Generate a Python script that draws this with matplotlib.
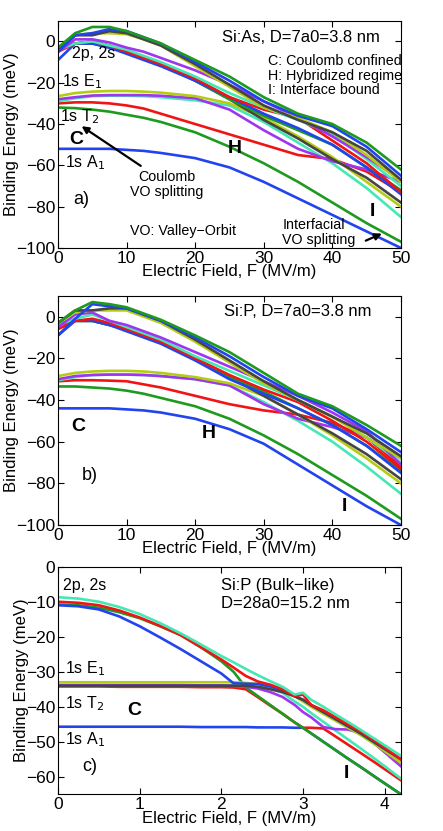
import matplotlib
matplotlib.use("Agg")
import matplotlib.pyplot as plt

plt.rcParams['font.family'] = ['Liberation Sans', 'DejaVu Sans']

# colours (MATLAB-ish)
BLUE = '#2244ee'
GREEN = '#1e9a1e'
RED = '#f01515'
CYAN = '#45e8b5'
PURPLE = '#a035f0'
YELLOW = '#b5cc15'
GRAY = '#454545'

# ---------- panel a) Si:As, D=7a0 ----------
xa = [0, 2.5, 5, 7.5, 10, 12.5, 15, 20, 25, 30, 35, 40, 45, 50]

a_green1 = [-3, 4, 7, 7, 5, 2, -1, -9, -17, -27, -35, -40, -49, -62]
a_blue1 = [-5, 3, 4, 6, 5, 2, -1, -10, -19, -29, -36, -41, -51, -65]
a_gray1 = [-4, 3, 3, 5, 4, 1, -2, -11, -21, -31, -38, -44, -53, -67]
a_yellow1 = [-4, 3, 4, 4, 3.5, 1, -2, -12, -22, -32, -37, -44, -55, -68]
a_purple1 = [-5, 1, 1, -0.5, -3, -5, -8, -14, -21, -29, -37, -46, -56, -67]
a_cyan1 = [-4, -1, 0, -2, -4, -7, -10, -17, -25, -32, -38, -45, -57, -70]
a_red1 = [-5, -1, 0, -2, -5, -8, -11, -18, -27, -33, -37, -48, -59, -73]
a_blue2 = [-9, -1, -1, -3, -6, -9, -12, -19, -27, -35, -42, -50, -61, -74]
a_green2 = [-3, -1, 0, -2, -5, -8, -11, -19, -28, -36, -43, -50, -61, -72]
a_gray2 = [-4, -1, -1, -3, -5, -8, -11, -19, -28, -38, -47, -57, -66, -78]
a_yellow2 = [-26.5, -25, -24.3, -24, -24, -24.3, -24.8, -26.5, -30, -37, -46, -56, -68, -80]
a_purple2 = [-28, -27, -26.2, -26, -26, -26, -26.3, -27.5, -33, -43, -52, -58, -62, -68]
a_cyan2 = [-29, -27.5, -26.5, -26.3, -26.3, -26.5, -27, -28.5, -31, -39, -49, -59, -71, -85]
a_red2 = [-30, -29.5, -29.5, -30, -31, -32.5, -35, -40, -45, -50, -55, -57, -63, -73]
a_green3 = [-32, -32.3, -33, -34, -35.5, -37, -39, -44, -51, -59, -68, -78, -88, -97]
a_blue3 = [-52, -52, -52, -52, -52.5, -53, -54, -56.5, -61, -68, -76, -84, -92, -100]

# ---------- panel b) Si:P, D=7a0 ----------
xb = [0, 2.5, 5, 7.5, 10, 12.5, 15, 20, 25, 30, 35, 40, 45, 50]

b_green1 = [-3, 3, 7, 6, 4.5, 1.5, -1.5, -9, -17, -27, -37, -43, -52, -62]
b_blue1 = [-9, -1, 6, 5, 4, 1, -2, -10, -19, -29, -38, -44, -54, -65]
b_gray1 = [-3, 3, 3, 4, 4, 1, -2, -11, -21, -31, -40, -48, -56, -67]
b_yellow1 = [-3, 2, 3, 3, 3, 0, -3, -12, -22, -32, -40, -48, -58, -68]
b_purple1 = [-5, 1, 2, -2, -4, -7, -10, -17, -24, -31, -38, -46, -55, -71]
b_cyan1 = [-4, -1, 1, -2, -5, -8, -11, -19, -26, -33, -40, -48, -58, -70]
b_red1 = [-6, -2, -1, -3, -6, -9, -12, -20, -28, -35, -41, -50, -60, -73]
b_blue2 = [-9, -2, -2, -4, -7, -10, -13, -21, -30, -37, -44, -52, -62, -75]
b_green2 = [-3, -2, -2, -4, -6, -9, -12, -20, -29, -36, -44, -52, -62, -74]
b_gray2 = [-4, -2, -2, -4, -6, -9, -12, -20, -29, -38, -47, -56, -66, -78]
b_yellow2 = [-28.5, -27, -26.3, -26, -26, -26.3, -27, -29, -32, -38, -47, -57, -68, -80]
b_purple2 = [-30, -28.5, -28, -27.8, -27.8, -28, -28.5, -30, -33, -42, -49, -53, -58, -68]
b_cyan2 = [-30.5, -29, -28, -27.8, -27.8, -28, -28.5, -30, -33, -41, -50, -60, -72, -85]
b_red2 = [-31, -30.5, -30.5, -30.7, -31, -32.5, -34, -38, -42, -45, -47, -51, -58, -72]
b_green3 = [-33.5, -33.5, -34, -34.5, -35.5, -37, -39, -43, -49, -57, -66, -76, -86, -97]
b_blue3 = [-44, -44, -44, -44, -44.5, -45, -46, -49, -54, -61, -71, -81, -91, -100]

# ---------- panel c) Si:P bulk-like, D=28a0 ----------
xc = [0, 0.25, 0.5, 0.75, 1, 1.25, 1.5, 1.75, 2, 2.15, 2.3, 2.45, 2.6, 2.75, 2.9,
      3.0, 3.1, 3.25, 3.4, 3.55, 3.7, 3.9, 4.2]

c_cyan1 = [-8.7, -9.1, -10, -11.5, -13.5, -16.1, -19, -22.2, -25.5, -27.3, -29.2, -31,
           -32.7, -34.3, -36.5, -36, -38, -40, -42.2, -44.3, -46.5, -49.5, -54]
c_red1 = [-10, -10.3, -11, -12.5, -14.5, -16.9, -19.5, -23, -26.5, -28.8, -31.2, -32.8,
          -33.7, -35, -37, -36.5, -39.5, -41, -43, -45, -47, -50, -55]
c_blue1 = [-11, -11.3, -12.2, -14.2, -17, -20.2, -23.5, -27, -30.5, -33.3, -33.4, -33.5,
           -34.2, -35.3, -37, -38, -39.5, -41.5, -43.5, -45.5, -47.5, -50.5, -55]
c_green1 = [-10.8, -11, -11.7, -13, -14.7, -17, -19.5, -23, -27, -30, -34.5, -37,
            -39.5, -42, -44.5, -46, -47.6, -50, -52.4, -54.8, -57.1, -60.3, -65]
c_red2 = [-34.2, -34.2, -34.2, -34.3, -34.3, -34.3, -34.3, -34.4, -34.4, -34.5, -35, -37.3,
          -39.7, -42, -44.5, -46, -46, -46.2, -48.5, -50.8, -53.1, -56.2, -61]
c_yellow = [-33, -33, -33, -33, -33, -33, -33, -33, -33, -33, -33.2, -33.5,
            -34.2, -35.2, -37, -38.5, -40, -42, -44, -46, -48, -51, -56]
c_gray = [-34, -34, -34, -34, -34, -34, -34, -34, -34, -34, -34, -34.3,
          -35, -35.8, -37, -38, -39.5, -41.5, -43.5, -45.5, -47.5, -50.5, -55]
c_purple = [-33.8, -33.8, -33.8, -33.8, -33.8, -33.8, -33.8, -33.9, -33.9, -34, -34.3, -34.8,
            -35.8, -37.2, -39.5, -41.5, -43, -45.8, -46.4, -46.5, -47.5, -51, -57]
c_cyan2 = [-34, -34, -34, -34, -34, -34, -34, -34, -34, -34, -34.1, -34.3,
           -34.8, -36, -38.5, -40, -41.8, -44.3, -46.8, -49.3, -51.8, -55.2, -60.5]
c_blue2 = [-45.7, -45.7, -45.7, -45.7, -45.7, -45.7, -45.7, -45.8, -45.8, -45.8, -45.8, -45.9,
           -45.9, -45.9, -46, -46, -47.6, -50, -52.4, -54.8, -57.1, -60.3, -65]

LW = 1.9


def style_axes(ax):
    ax.tick_params(direction='in', top=True, right=True, labelsize=12.5, length=4, pad=2)
    ax.set_xlabel('Electric Field, F (MV/m)', fontsize=12, labelpad=-1)
    ax.set_ylabel('Binding Energy (meV)', fontsize=12, labelpad=-2)


fig = plt.figure(figsize=(4.43, 8.31), dpi=100)

# ---- a)
ax = fig.add_axes([0.131, 0.7016, 0.774, 0.2734])
lines_a = [
    (a_blue3, BLUE), (a_green3, GREEN), (a_red2, RED), (a_cyan2, CYAN),
    (a_purple2, PURPLE), (a_yellow2, YELLOW),
    (a_gray2, GRAY), (a_green2, GREEN), (a_blue2, BLUE), (a_red1, RED),
    (a_cyan1, CYAN), (a_purple1, PURPLE),
    (a_yellow1, YELLOW), (a_gray1, GRAY), (a_blue1, BLUE), (a_green1, GREEN),
]
for ys, c in lines_a:
    ax.plot(xa, ys, color=c, lw=LW)
ax.set_xlim(0, 50)
ax.set_ylim(-100, 10)
ax.set_xticks([0, 10, 20, 30, 40, 50])
ax.set_yticks([-100, -80, -60, -40, -20, 0])
style_axes(ax)
ax.text(23.9, 2, 'Si:As, D=7a0=3.8 nm', fontsize=12, va='center')
ax.text(30.6, -9.4, 'C: Coulomb confined', fontsize=10.3, va='center')
ax.text(30.6, -16.6, 'H: Hybridized regime', fontsize=10.3, va='center')
ax.text(30.6, -23.4, 'I: Interface bound', fontsize=10.3, va='center')
ax.text(2.0, -5.7, '2p, 2s', fontsize=11.5, va='center')
ax.text(0.6, -19.5, '1s E$_1$', fontsize=11.5, va='center')
ax.text(0.3, -36.5, '1s T$_2$', fontsize=11.5, va='center')
ax.text(1.0, -58.8, '1s A$_1$', fontsize=11.5, va='center')
ax.text(1.7, -47.5, 'C', fontsize=14, fontweight='bold', va='center')
ax.text(24.8, -51.6, 'H', fontsize=14, fontweight='bold', va='center')
ax.text(45.5, -82.4, 'I', fontsize=14, fontweight='bold', va='center')
ax.text(2.2, -76.7, 'a)', fontsize=13, va='center')
ax.text(15.9, -69.4, 'Coulomb\nVO splitting', fontsize=10.3, ha='center', va='center',
        linespacing=1.1)
ax.annotate('', xy=(3.1, -40.3), xytext=(12.4, -61),
            arrowprops=dict(arrowstyle='-|>', lw=1.6, color='k', mutation_scale=10))
ax.text(10.5, -91.6, 'VO: Valley\u2212Orbit', fontsize=10.3, va='center')
ax.text(32.7, -92.6, 'Interfacial\nVO splitting', fontsize=10.3, va='center',
        linespacing=1.1)
ax.annotate('', xy=(47.6, -92.5), xytext=(44.5, -97),
            arrowprops=dict(arrowstyle='-|>', lw=1.6, color='k', mutation_scale=10))

# ---- b)
ax = fig.add_axes([0.131, 0.3682, 0.774, 0.2758])
lines_b = [
    (b_blue3, BLUE), (b_green3, GREEN), (b_red2, RED), (b_cyan2, CYAN),
    (b_purple2, PURPLE), (b_yellow2, YELLOW),
    (b_gray2, GRAY), (b_green2, GREEN), (b_blue2, BLUE), (b_red1, RED),
    (b_cyan1, CYAN), (b_purple1, PURPLE),
    (b_yellow1, YELLOW), (b_gray1, GRAY), (b_blue1, BLUE), (b_green1, GREEN),
]
for ys, c in lines_b:
    ax.plot(xb, ys, color=c, lw=LW)
ax.set_xlim(0, 50)
ax.set_ylim(-100, 10)
ax.set_xticks([0, 10, 20, 30, 40, 50])
ax.set_yticks([-100, -80, -60, -40, -20, 0])
style_axes(ax)
ax.text(24.2, 2.4, 'Si:P, D=7a0=3.8 nm', fontsize=12, va='center')
ax.text(2.0, -52.7, 'C', fontsize=14, fontweight='bold', va='center')
ax.text(21.0, -56.2, 'H', fontsize=14, fontweight='bold', va='center')
ax.text(41.3, -91.3, 'I', fontsize=14, fontweight='bold', va='center')
ax.text(3.5, -76, 'b)', fontsize=13, va='center')

# ---- c)
ax = fig.add_axes([0.131, 0.0442, 0.774, 0.2738])
lines_c = [
    (c_blue2, BLUE), (c_red2, RED), (c_green1, GREEN), (c_cyan2, CYAN),
    (c_purple, PURPLE), (c_yellow, YELLOW), (c_blue1, BLUE), (c_gray, GRAY),
    (c_red1, RED), (c_cyan1, CYAN),
]
for ys, c in lines_c:
    ax.plot(xc, ys, color=c, lw=LW)
ax.set_xlim(0, 4.2)
ax.set_ylim(-65, 0)
ax.set_xticks([0, 1, 2, 3, 4])
ax.set_yticks([-60, -50, -40, -30, -20, -10, 0])
style_axes(ax)
ax.text(0.06, -5.5, '2p, 2s', fontsize=11.5, va='center')
ax.text(2.0, -5.5, 'Si:P (Bulk\u2212like)', fontsize=12, va='center')
ax.text(2.0, -10.5, 'D=28a0=15.2 nm', fontsize=12, va='center')
ax.text(0.08, -29, '1s E$_1$', fontsize=11.5, va='center')
ax.text(0.08, -39, '1s T$_2$', fontsize=11.5, va='center')
ax.text(0.08, -49.5, '1s A$_1$', fontsize=11.5, va='center')
ax.text(0.85, -41, 'C', fontsize=14, fontweight='bold', va='center')
ax.text(3.5, -59, 'I', fontsize=14, fontweight='bold', va='center')
ax.text(0.3, -57, 'c)', fontsize=13, va='center')

fig.savefig('out.png', dpi=100)
